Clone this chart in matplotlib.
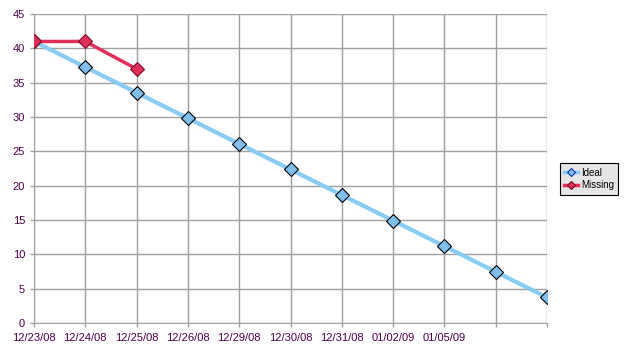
import matplotlib
matplotlib.use("Agg")
import matplotlib.pyplot as plt
from matplotlib.lines import Line2D

categories = ["12/23/08", "12/24/08", "12/25/08", "12/26/08", "12/29/08",
              "12/30/08", "12/31/08", "01/02/09", "01/05/09", "", ""]
ideal = [41.0, 37.27, 33.55, 29.82, 26.09, 22.36, 18.64, 14.91, 11.18, 7.45, 3.73]
missing = [41.0, 41.0, 37.0]
yticks = [0, 5, 10, 15, 20, 25, 30, 35, 40, 45]

plt.rcParams['font.family'] = ['Liberation Sans', 'DejaVu Sans']
txt = '#4a0048'

fig = plt.figure(figsize=(6.35, 3.61), dpi=100)
ax = fig.add_axes([34/635, 1 - 323/361, (547 - 34)/635, (323 - 14)/361])

x = list(range(len(categories)))
ax.plot(x, ideal, color='#88ccf5', lw=3, marker='D', ms=7,
        mfc='#7fc0f0', mec='black', mew=0.8, zorder=3, label='Ideal')
ax.plot(x[:len(missing)], missing, color='#e0305a', lw=2.5, marker='D', ms=7,
        mfc='#e0305a', mec='#7a0a20', mew=0.8, zorder=4, label='Missing')

ax.set_xlim(0, len(categories) - 1)
ax.set_ylim(0, 45)
ax.set_yticks(yticks)
ax.set_xticks(x)
ax.set_xticklabels(categories)
ax.grid(True, color='#a0a0a0', lw=1)
ax.set_axisbelow(True)
for s in ['top', 'right']:
    ax.spines[s].set_visible(False)
for s in ['left', 'bottom']:
    ax.spines[s].set_color('#a0a0a0')
ax.tick_params(axis='both', colors='#a0a0a0', labelcolor=txt, labelsize=8,
               length=3, width=1)
ax.tick_params(axis='x', pad=4.5)
ax.tick_params(axis='y', pad=3.5)

leg = fig.legend(handles=[
    Line2D([], [], color='#88ccf5', lw=2.5, marker='D', ms=4, mfc='#7fc0f0', mec='#1030a0', mew=0.8),
    Line2D([], [], color='#e0305a', lw=2.5, marker='D', ms=4, mfc='#e0305a', mec='#7a0a20', mew=0.8)],
    labels=['Ideal', 'Missing'], loc='center left',
    bbox_to_anchor=(560/635, 1 - 179/361), fontsize=7, frameon=True,
    fancybox=False, edgecolor='black', facecolor='#e6e6e6', framealpha=1,
    handlelength=1.4, handletextpad=0.3, borderpad=0.45, labelspacing=0.3,
    borderaxespad=0)
leg.get_frame().set_linewidth(0.8)

fig.savefig('out.png', dpi=100)
